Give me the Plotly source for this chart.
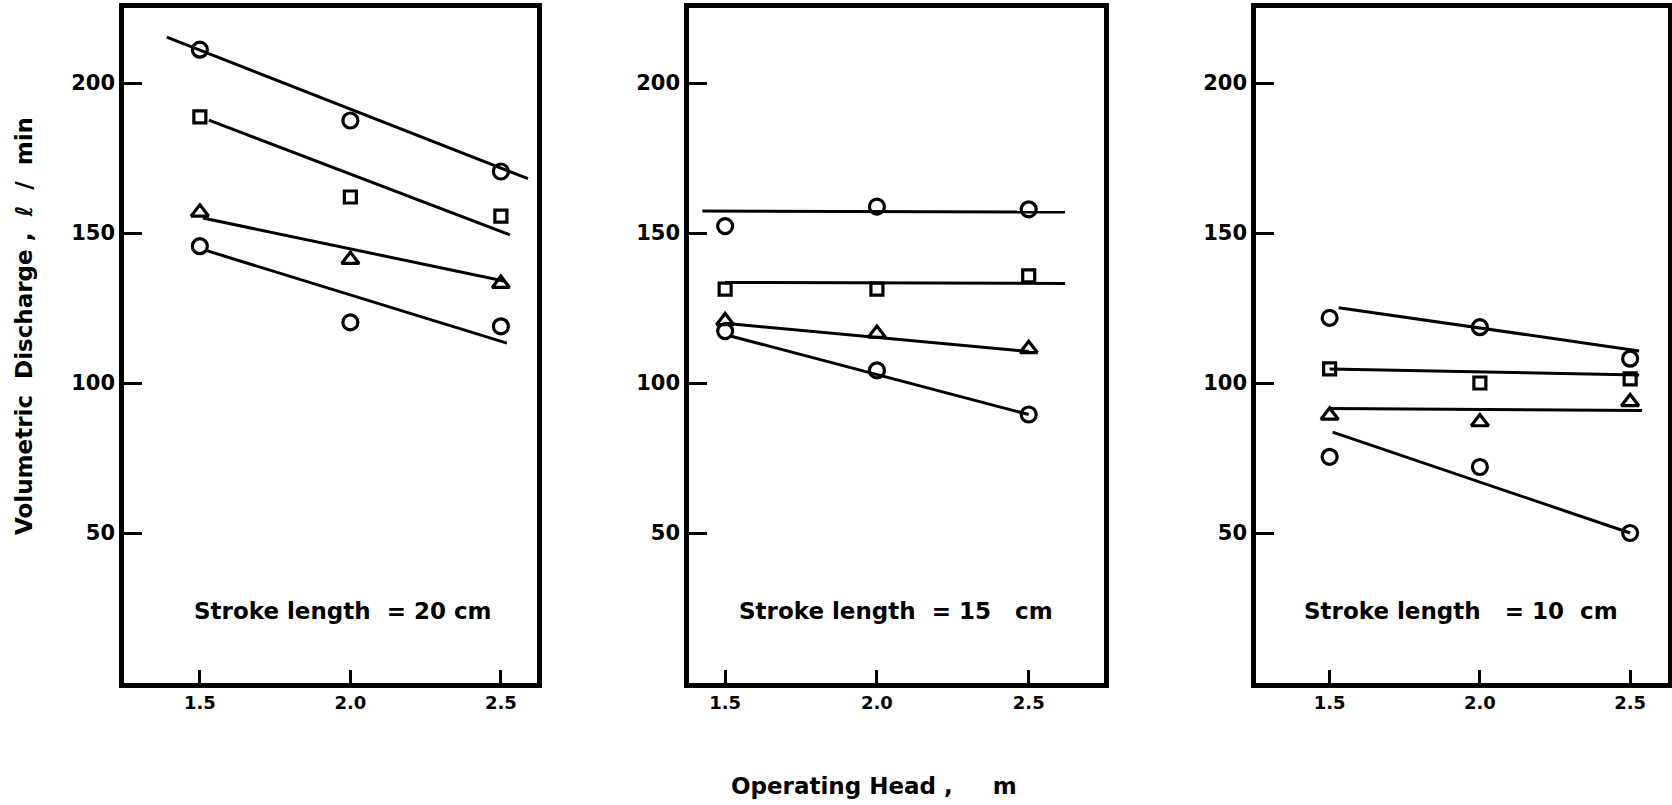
import plotly.graph_objects as go

# ---------------- data ----------------
head = [1.5, 2.0, 2.5]
panel_titles = ["Stroke\u00a0length\u00a0\u00a0=\u00a020\u00a0cm",
                "Stroke\u00a0length\u00a0\u00a0=\u00a015\u00a0\u00a0\u00a0cm",
                "Stroke\u00a0length\u00a0\u00a0\u00a0=\u00a010\u00a0\u00a0cm"]
y_ticks = [50, 100, 150, 200]
x_ticks = [1.5, 2.0, 2.5]
x_ticktext = ["1.5", "2.0", "2.5"]

# stroke 20 cm
s20_circ_top = [211.1, 187.5, 170.5]
s20_square = [188.7, 162.0, 155.6]
s20_triangle = [156.9, 141.1, 133.1]
s20_circ_bot = [145.6, 120.2, 118.9]
s20_fit_circ_top = ([1.39, 2.59], [215.3, 168.1])
s20_fit_square = ([1.53, 2.53], [187.6, 149.4])
s20_fit_triangle = ([1.51, 2.51], [155.0, 134.0])
s20_fit_circ_bot = ([1.52, 2.52], [144.2, 113.3])

# stroke 15 cm
s15_circ_top = [152.3, 158.8, 157.9]
s15_square = [131.3, 131.3, 135.7]
s15_triangle = [120.7, 116.5, 111.4]
s15_circ_bot = [117.3, 104.2, 89.5]
s15_fit_circ_top = ([1.425, 2.62], [157.3, 157.0])
s15_fit_square = ([1.5, 2.62], [133.5, 133.2])
s15_fit_triangle = ([1.5, 2.5], [119.9, 110.5])
s15_fit_circ_bot = ([1.52, 2.5], [115.6, 89.5])

# stroke 10 cm
s10_circ_top = [121.7, 118.6, 108.1]
s10_square = [104.7, 100.0, 101.4]
s10_triangle = [89.2, 87.0, 93.7]
s10_circ_bot = [75.4, 72.0, 50.0]
s10_fit_circ_top = ([1.53, 2.53], [125.1, 110.7])
s10_fit_square = ([1.5, 2.53], [104.7, 102.7])
s10_fit_triangle = ([1.5, 2.54], [91.5, 90.8])
s10_fit_circ_bot = ([1.51, 2.5], [83.6, 50.0])

panels = [
    (s20_circ_top, s20_square, s20_triangle, s20_circ_bot,
     s20_fit_circ_top, s20_fit_square, s20_fit_triangle, s20_fit_circ_bot),
    (s15_circ_top, s15_square, s15_triangle, s15_circ_bot,
     s15_fit_circ_top, s15_fit_square, s15_fit_triangle, s15_fit_circ_bot),
    (s10_circ_top, s10_square, s10_triangle, s10_circ_bot,
     s10_fit_circ_top, s10_fit_square, s10_fit_triangle, s10_fit_circ_bot),
]

# ---------------- figure ----------------
W, H = 1672, 805
FONT = "DejaVu Sans"
x_domains = [[124 / W, 537 / W], [689 / W, 1104 / W], [1256 / W, 1668 / W]]
x_ranges = [[1.248, 2.62], [1.381, 2.748], [1.255, 2.626]]
y_domain = [1 - 683 / H, 1 - 8 / H]
y_range = [0, 225]

fig = go.Figure()
symbols = ["circle-open", "square-open", "triangle-up-open", "circle-open"]
sizes = [15, 12, 15, 15]

for i, p in enumerate(panels):
    xa = "x" if i == 0 else f"x{i+1}"
    ya = "y" if i == 0 else f"y{i+1}"
    pts = p[:4]
    fits = p[4:]
    for fx, fy in fits:
        fig.add_trace(go.Scatter(x=fx, y=fy, mode="lines", xaxis=xa, yaxis=ya,
                                 line=dict(color="black", width=3),
                                 showlegend=False, hoverinfo="skip"))
    for vals, sym, sz in zip(pts, symbols, sizes):
        fig.add_trace(go.Scatter(x=head, y=vals, mode="markers", xaxis=xa, yaxis=ya,
                                 marker=dict(symbol=sym, size=sz, color="black",
                                             line=dict(color="black", width=3.2)),
                                 showlegend=False))

layout = dict(
    width=W, height=H,
    margin=dict(l=0, r=0, t=0, b=0),
    paper_bgcolor="white", plot_bgcolor="white",
    font=dict(family=FONT, color="black"),
    showlegend=False,
)
for i in range(3):
    suffix = "" if i == 0 else str(i + 1)
    layout["xaxis" + suffix] = dict(
        domain=x_domains[i], range=x_ranges[i], anchor="y" + suffix,
        showline=True, linewidth=4.5, linecolor="black", mirror=True,
        showgrid=False, zeroline=False,
        ticks="inside", ticklen=13, tickwidth=3, tickcolor="black",
        tickvals=x_ticks, ticktext=x_ticktext,
        tickfont=dict(size=18, family=FONT, color="black", weight="bold"),
    )
    layout["yaxis" + suffix] = dict(
        domain=y_domain, range=y_range, anchor="x" + suffix,
        showline=True, linewidth=4.5, linecolor="black", mirror=True,
        showgrid=False, zeroline=False,
        ticks="inside", ticklen=18, tickwidth=3, tickcolor="black",
        tickvals=y_ticks,
        tickfont=dict(size=21, family=FONT, color="black", weight="bold"),
    )
fig.update_layout(**layout)

# panel labels
label_x = [1.977, 2.064, 1.937]
for i in range(3):
    suffix = "" if i == 0 else str(i + 1)
    fig.add_annotation(x=label_x[i], y=24, xref="x" + suffix, yref="y" + suffix,
                       text=panel_titles[i], showarrow=False,
                       xanchor="center", yanchor="middle",
                       font=dict(size=23, family=FONT, color="black", weight="bold"))

# axis titles
fig.add_annotation(x=24 / W, y=1 - 326 / H, xref="paper", yref="paper",
                   text="Volumetric\u00a0\u00a0Discharge\u00a0,\u00a0\u00a0\u2113\u00a0\u00a0/\u00a0\u00a0min",
                   textangle=-90, showarrow=False,
                   xanchor="center", yanchor="middle",
                   font=dict(size=23, family=FONT, color="black", weight="bold"))
fig.add_annotation(x=874 / W, y=1 - 786 / H, xref="paper", yref="paper",
                   text="Operating\u00a0Head\u00a0,\u00a0\u00a0\u00a0\u00a0\u00a0m",
                   showarrow=False,
                   xanchor="center", yanchor="middle",
                   font=dict(size=23, family=FONT, color="black", weight="bold"))

fig.write_html("out.html")
